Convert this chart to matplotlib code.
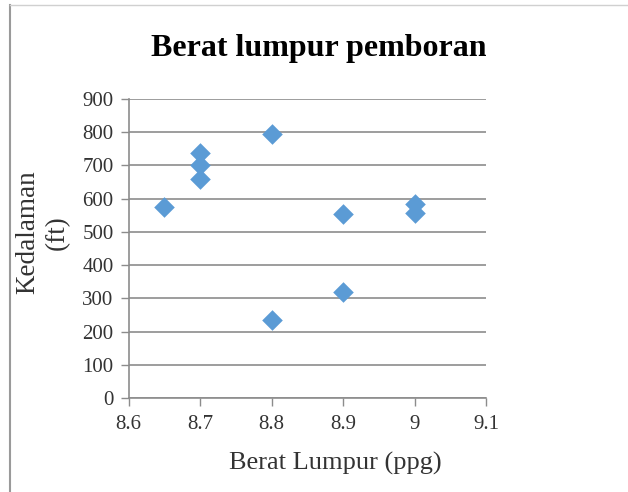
import matplotlib.pyplot as plt
from matplotlib.lines import Line2D

# mud weight (ppg) vs depth (ft)
berat = [8.65, 8.7, 8.7, 8.7, 8.8, 8.8, 8.9, 8.9, 9.0, 9.0]
kedalaman = [575, 738, 702, 659, 795, 235, 554, 320, 584, 558]

xticks = [8.6, 8.7, 8.8, 8.9, 9.0, 9.1]
xticklabels = ["8.6", "8.7", "8.8", "8.9", "9", "9.1"]
yticks = list(range(0, 1000, 100))

plt.rcParams['font.family'] = ['Liberation Serif', 'DejaVu Serif']

fig = plt.figure(figsize=(6.28, 4.92), dpi=100)
ax = fig.add_axes([0.205, 0.191, 0.569, 0.608])

ax.scatter(berat, kedalaman, marker="D", s=110, color="#5B9BD5", zorder=3, linewidths=0)

ax.set_xlim(8.6, 9.1)
ax.set_ylim(0, 900)
ax.set_xticks(xticks)
ax.set_xticklabels(xticklabels)
ax.set_yticks(yticks)
ax.grid(axis="y", color="#8c8c8c", linewidth=1.2)
ax.set_axisbelow(True)

for s in ["top", "right"]:
    ax.spines[s].set_visible(False)
for s in ["left", "bottom"]:
    ax.spines[s].set_color("#8c8c8c")
    ax.spines[s].set_linewidth(1.2)
ax.tick_params(axis="both", colors="#8c8c8c", labelcolor="#333333", labelsize=15, length=6, width=1)
ax.tick_params(axis="y", pad=5)
ax.tick_params(axis="x", pad=6)

fig.text(0.508, 0.902, "Berat lumpur pemboran", ha="center", va="center",
         fontsize=23, fontweight="bold")
ax.set_xlabel("Berat Lumpur (ppg)", fontsize=19, color="#333333")
ax.xaxis.set_label_coords(0.578, -0.18)
fig.text(0.068, 0.528, "Kedalaman\n(ft)", rotation=90, ha="center", va="center",
         fontsize=19.5, color="#333333", linespacing=1.25)

# screenshot frame edges
fig.add_artist(Line2D([0.016, 0.016], [0, 0.99], color="#9a9a9a", linewidth=1.5))
fig.add_artist(Line2D([0.016, 1], [0.99, 0.99], color="#d0d0d0", linewidth=1))

fig.savefig("out.png", dpi=100)
